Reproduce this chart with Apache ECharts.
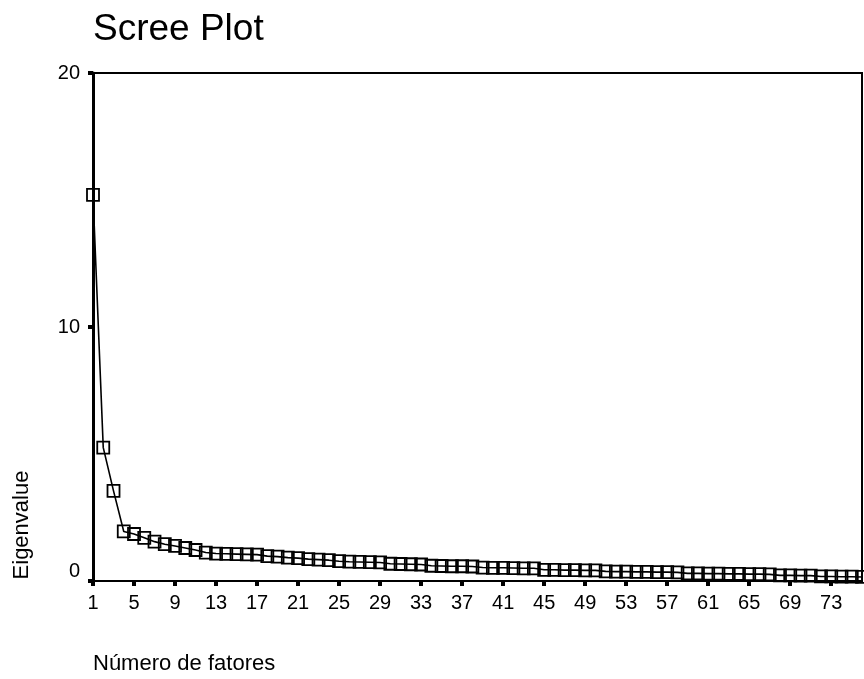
<!DOCTYPE html>
<html>
<head>
<meta charset="utf-8">
<script src="https://cdn.jsdelivr.net/npm/echarts@6/dist/echarts.min.js"></script>
<style>
  html, body { margin: 0; padding: 0; background: #fff; }
  #chart { width: 864px; height: 679px; }
</style>
</head>
<body>
<div id="chart"></div>
<script>
// ---- data ----
var factors = [];
for (var i = 1; i <= 76; i++) factors.push(String(i));
var eigenvalues = [
  15.2, 5.25, 3.55, 1.95, 1.85, 1.7, 1.55, 1.45, 1.38, 1.3,
  1.22, 1.12, 1.08, 1.07, 1.06, 1.05, 1.04, 0.98, 0.96, 0.92,
  0.9, 0.86, 0.84, 0.82, 0.78, 0.76, 0.75, 0.74, 0.73, 0.68,
  0.67, 0.66, 0.65, 0.6, 0.59, 0.58, 0.58, 0.57, 0.53, 0.52,
  0.52, 0.51, 0.5, 0.5, 0.44, 0.44, 0.43, 0.43, 0.42, 0.42,
  0.38, 0.37, 0.37, 0.36, 0.36, 0.35, 0.35, 0.34, 0.3, 0.3,
  0.29, 0.29, 0.28, 0.28, 0.27, 0.27, 0.26, 0.22, 0.22, 0.21,
  0.21, 0.18, 0.18, 0.17, 0.17, 0.16
];
var yTicks = [0, 10, 20];
var titleText = 'Scree Plot';
var xName = 'Número de fatores';
var yName = 'Eigenvalue';

var FONT = 'Liberation Sans, Arial, sans-serif';
var chart = echarts.init(document.getElementById('chart'), null, { renderer: 'canvas' });
chart.setOption({
  animation: false,
  backgroundColor: '#fff',
  title: {
    text: titleText,
    left: 93,
    top: 11,
    padding: 0,
    textStyle: { fontFamily: FONT, fontSize: 37, fontWeight: 'normal', color: '#000' }
  },
  grid: {
    left: 93, top: 73, right: 2, bottom: 98,
    show: true, borderColor: '#000', borderWidth: 2, backgroundColor: 'transparent'
  },
  xAxis: {
    type: 'category',
    data: factors,
    boundaryGap: false,
    name: xName,
    nameLocation: 'start',
    nameGap: 0,
    nameTextStyle: {
      fontFamily: FONT, fontSize: 22, color: '#000',
      align: 'left', verticalAlign: 'top', padding: [72, 0, 0, 0]
    },
    axisLine: { lineStyle: { color: '#000', width: 2 } },
    axisTick: { show: true, interval: 3, length: 5, lineStyle: { color: '#000', width: 4 } },
    axisLabel: { interval: 3, margin: 12, fontFamily: FONT, fontSize: 20, color: '#000' },
    splitLine: { show: false }
  },
  yAxis: {
    type: 'value',
    min: yTicks[0],
    max: yTicks[yTicks.length - 1],
    interval: yTicks[1] - yTicks[0],
    name: yName,
    nameLocation: 'middle',
    nameRotate: 90,
    nameGap: 60,
    nameTextStyle: {
      fontFamily: FONT, fontSize: 22, color: '#000',
      padding: [0, 396, 0, 0]
    },
    axisLine: { show: true, lineStyle: { color: '#000', width: 3 } },
    axisTick: { show: true, length: 5, lineStyle: { color: '#000', width: 4 } },
    axisLabel: {
      margin: 13, fontFamily: FONT, fontSize: 20, color: '#000',
      verticalAlignMinLabel: 'bottom'
    },
    splitLine: { show: false }
  },
  series: [{
    type: 'line',
    data: eigenvalues,
    symbol: 'rect',
    symbolSize: 12,
    showAllSymbol: true,
    lineStyle: { color: '#000', width: 1.6 },
    itemStyle: { color: 'rgba(0,0,0,0)', borderColor: '#000', borderWidth: 1.8 },
    emphasis: { disabled: true }
  }]
});
</script>
</body>
</html>
